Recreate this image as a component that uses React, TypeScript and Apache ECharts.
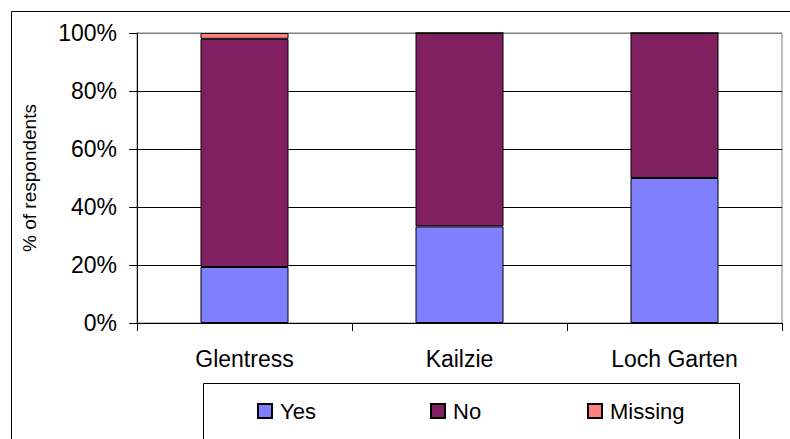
import React, { useEffect, useRef } from "react";
import * as echarts from "echarts";

const categories = ["Glentress", "Kailzie", "Loch Garten"];
const yesValues = [19.3, 33.3, 50];
const noValues = [78.7, 66.7, 50];
const missingValues = [2, 0, 0];
const yTicks = [0, 20, 40, 60, 80, 100];

const FONT = "'Liberation Sans', Arial, sans-serif";

export default function App() {
  const ref = useRef<HTMLDivElement>(null);
  useEffect(() => {
    if (!ref.current) return;
    const chart = echarts.init(ref.current, undefined, { renderer: "svg" });
    const border = { borderColor: "#000", borderWidth: 1 };
    chart.setOption({
      animation: false,
      backgroundColor: "#fff",
      textStyle: { fontFamily: FONT },
      graphic: [
        {
          type: "rect",
          shape: { x: 11.5, y: 11.5, width: 820, height: 460 },
          style: { fill: "none", stroke: "#000", lineWidth: 1 },
          z: 0,
        },
        {
          type: "rect",
          shape: { x: 203.5, y: 383.5, width: 536, height: 100 },
          style: { fill: "#fff", stroke: "#000", lineWidth: 1 },
          z: 1,
        },
      ],
      grid: {
        left: 137,
        top: 33,
        width: 645,
        height: 290,
        show: true,
        borderColor: "#808080",
        borderWidth: 1,
        backgroundColor: "transparent",
      },
      legend: [
        { name: "Yes", left: 257 },
        { name: "No", left: 430 },
        { name: "Missing", left: 587 },
      ].map((l) => ({
        data: [l.name],
        left: l.left,
        top: 400,
        padding: 0,
        itemWidth: 14,
        itemHeight: 14,
        icon: "rect",
        textStyle: { fontFamily: FONT, fontSize: 22, color: "#000", padding: [0, 0, 0, 3] },
        z: 5,
      })),
      xAxis: {
        type: "category",
        data: categories,
        axisLine: { lineStyle: { color: "#000", width: 1 } },
        axisTick: { show: true, length: 8, lineStyle: { color: "#000" } },
        axisLabel: { color: "#000", fontSize: 23, fontFamily: FONT, margin: 24 },
        splitLine: { show: false },
      },
      yAxis: {
        type: "value",
        min: yTicks[0],
        max: yTicks[yTicks.length - 1],
        interval: 20,
        name: "% of respondents",
        nameLocation: "middle",
        nameRotate: 90,
        nameGap: 98,
        nameTextStyle: { color: "#000", fontSize: 19, fontFamily: FONT },
        axisLine: { show: true, lineStyle: { color: "#000", width: 1 } },
        axisTick: { show: true, length: 8, lineStyle: { color: "#000" } },
        axisLabel: { color: "#000", fontSize: 23, fontFamily: FONT, margin: 20, formatter: "{value}%" },
        splitLine: {
          show: true,
          lineStyle: { color: ["#000", "#000", "#000", "#000", "#000", "#808080"], width: 1 },
        },
      },
      series: [
        {
          name: "Yes",
          type: "bar",
          stack: "all",
          data: yesValues,
          barWidth: 88,
          itemStyle: { color: "#8080FF", ...border },
        },
        {
          name: "No",
          type: "bar",
          stack: "all",
          data: noValues,
          barWidth: 88,
          itemStyle: { color: "#802060", ...border },
        },
        {
          name: "Missing",
          type: "bar",
          stack: "all",
          data: missingValues,
          barWidth: 88,
          itemStyle: { color: "#FF8080", ...border },
        },
      ],
    });
    return () => chart.dispose();
  }, []);
  return (
    <div
      ref={ref}
      style={{ position: "fixed", left: 0, top: 0, width: 790, height: 439 }}
    />
  );
}
